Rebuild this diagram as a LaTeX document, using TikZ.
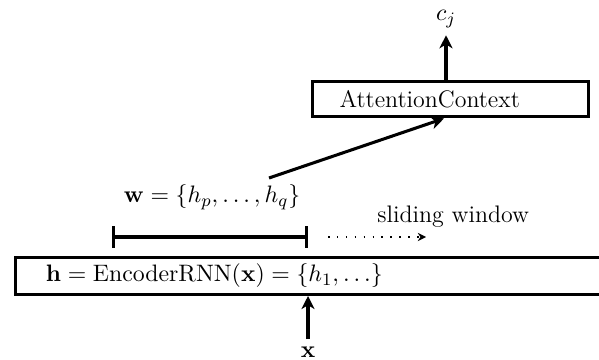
\documentclass[tikz,border=0pt]{standalone}
\usetikzlibrary{arrows.meta}
\begin{document}
\begin{tikzpicture}[x=0.46pt,y=-0.46pt,
  every node/.style={font=\fontsize{11}{13}\selectfont},
  boxn/.style={draw,line width=1.4pt,inner ysep=0pt,align=left},
  arr/.style={line width=1.4pt,-{Stealth[length=6pt,width=6pt,inset=1.8pt]}}]
\useasboundingbox (0,0) rectangle (599,360);
% encoder box
\node[boxn,minimum height=17pt,text width=243pt,inner xsep=14pt,anchor=west] (enc) at (14,276) {$\mathbf{h}=\mathrm{EncoderRNN}(\mathbf{x})=\{h_1,\dots\}$};
% attention box
\node[boxn,minimum height=16.5pt,text width=101.6pt,inner xsep=12.7pt,anchor=west] (att) at (310.5,99) {AttentionContext};
% output
\node (cj) at (446,19) {$c_j$};
\draw[arr] (att.north -| cj) -- (cj.south);
% input
\node (x) at (308,352) {$\mathbf{x}$};
\draw[arr] (x.north) -- (x |- enc.south);
% window bracket
\coordinate (wl) at (112,237);
\coordinate (wr) at (308,237);
\draw[line width=1.4pt,{Bar[width=10pt]}-{Bar[width=10pt]}] (wl) -- (wr);
\node (w) at (212,197) {$\mathbf{w}=\{h_p,\dots,h_q\}$};
% sliding window
\coordinate (s1) at (328,237);
\coordinate (s2) at (426,237);
\draw[line width=0.7pt,dash pattern=on 0.7pt off 3.4pt,-{Stealth[length=3.8pt,width=3.8pt]}] (s1) -- (s2);
\node[anchor=west,inner xsep=0pt] (sw) at (377,217) {sliding window};
% line to attention
\coordinate (ls) at (269,178);
\draw[arr] (ls) -- (att.south -| 444,0);
\end{tikzpicture}
\end{document}
